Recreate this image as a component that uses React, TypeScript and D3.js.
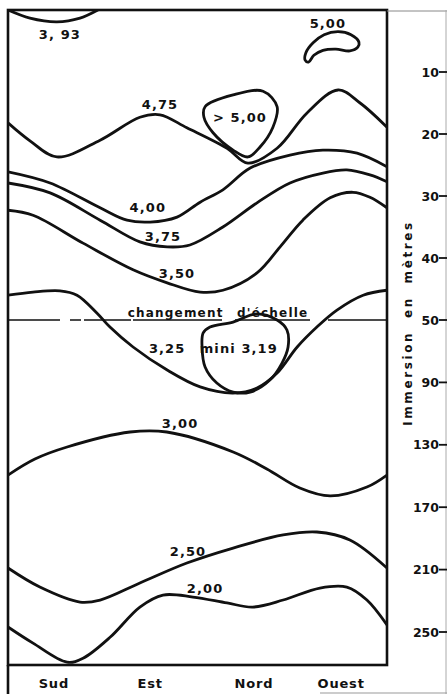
import React, { useRef, useEffect } from 'react';
import * as d3 from 'd3';

const WIDTH = 447;
const HEIGHT = 694;

// Depth axis (metres), scale changes below 50 m
const depthTicks = [10, 20, 30, 40, 50, 90, 130, 170, 210, 250];

// Orientation along the profile (0-100 = Sud ... Ouest, one turn)
const directions = ['Sud', 'Est', 'Nord', 'Ouest'];
const directionPos = [12.1, 37.5, 64.9, 87.9];

// Isolines: [position, depth in m]
const iso393 = [[0, 0], [5.8, 1.3], [12.9, 1.9], [19.0, 1.3], [23.7, 0]];
const iso500top = [[78.4, 8.1], [78.6, 6.9], [80.5, 5.3], [83.4, 4.0], [87.1, 3.5], [90.5, 4.0],
  [92.6, 5.2], [92.3, 6.0], [90.2, 6.6], [86.5, 6.3], [83.1, 6.5], [80.7, 7.3], [79.3, 8.4]];
const iso475 = [[0, 18.2], [5.8, 21.1], [12.9, 23.7], [24.3, 21.0], [34.8, 17.3], [40.1, 16.9],
  [47.2, 19.0], [57.8, 22.3], [63.3, 24.7], [71.0, 22.3], [78.9, 16.6], [87.1, 12.9],
  [92.9, 15.0], [100, 18.9]];
const iso500mid = [[52.0, 15.6], [59.4, 13.7], [67.3, 13.1], [71.0, 15.6], [69.9, 18.9],
  [66.5, 22.1], [63.3, 23.7], [59.4, 22.6], [54.1, 19.8], [51.7, 17.3]];
const iso400 = [[0, 26.1], [11.1, 27.9], [24.3, 31.9], [31.4, 33.9], [37.5, 34.2], [44.6, 33.4],
  [50.7, 31.0], [56.7, 29.0], [63.9, 25.5], [74.4, 23.4], [83.1, 22.6], [92.1, 23.1], [100, 25.3]];
const iso375 = [[0, 27.9], [11.1, 29.5], [24.3, 33.9], [34.8, 37.4], [42.0, 38.2], [48.0, 37.9],
  [56.7, 35.0], [65.7, 31.1], [74.4, 27.9], [83.1, 26.3], [89.4, 25.8], [95.5, 26.6], [100, 27.7]];
const iso350 = [[0, 32.3], [6.6, 33.1], [19.8, 37.6], [33.0, 41.9], [42.0, 44.0], [50.7, 45.5],
  [56.7, 45.2], [65.7, 42.4], [71.8, 38.2], [77.8, 33.9], [85.0, 30.3], [91.0, 29.4],
  [95.5, 30.2], [100, 31.9]];
const iso325 = [[0, 46.0], [6.6, 45.5], [13.7, 45.3], [18.2, 46.0], [23.5, 48.9], [26.9, 54.5],
  [33.0, 67.3], [42.0, 82.1], [50.7, 92.9], [59.4, 96.8], [65.7, 93.6], [71.0, 84.0],
  [76.3, 67.3], [81.5, 54.5], [86.8, 48.4], [93.7, 46.0], [100, 45.2]];
const iso319 = [[53.3, 54.5], [59.4, 51.3], [65.7, 49.0], [71.0, 50.0], [73.6, 56.4], [73.9, 67.3],
  [72.3, 77.6], [69.1, 88.5], [63.9, 96.2], [59.4, 96.2], [55.1, 90.4], [52.0, 80.1],
  [51.2, 67.3], [51.5, 58.3]];
const iso300 = [[0, 149.4], [7.1, 139.1], [15.6, 131.4], [32.2, 121.8], [41.9, 121.8],
  [59.4, 134.6], [68.3, 145.5], [77.0, 157.7], [85.0, 162.8], [94.7, 157.1], [100, 149.4]];
const iso250 = [[0, 209.0], [8.4, 221.2], [19.0, 230.8], [24.3, 229.5], [34.8, 218.6],
  [47.2, 205.8], [59.4, 196.2], [72.6, 187.8], [81.5, 185.9], [90.2, 191.0], [100, 209.0]];
const iso200 = [[0, 246.8], [6.6, 257.1], [15.6, 269.2], [19.8, 266.7], [27.0, 253.2],
  [34.8, 234.0], [40.9, 226.3], [48.8, 227.6], [57.8, 231.4], [64.6, 234.0], [72.6, 229.5],
  [82.3, 221.8], [89.4, 221.2], [94.7, 229.5], [100, 245.5]];

const openLines = [iso393, iso475, iso400, iso375, iso350, iso325, iso300, iso250, iso200];
const closedLines = [iso500top, iso500mid, iso319];

// Labels: [text, position, depth]
const isoLabels = [
  ['3, 93', 13.7, 3.9],
  ['5,00', 84.4, 2.1],
  ['4,75', 40.1, 15.2],
  ['> 5,00', 61.2, 17.3],
  ['4,00', 36.9, 31.8],
  ['3,75', 40.9, 36.5],
  ['3,50', 44.6, 42.4],
  ['3,25', 42.0, 67.9],
  ['mini 3,19', 60.9, 67.9],
  ['3,00', 45.4, 116.0],
  ['2,50', 47.5, 198.1],
  ['2,00', 52.0, 221.8],
];

const FONT = '"DejaVu Sans", sans-serif';

function IsolineChart() {
  const svgRef = useRef<SVGSVGElement>(null);

  useEffect(() => {
    const svg = d3.select(svgRef.current);
    svg.selectAll('*').remove();

    const left = 8, right = 387, top = 10, bottom = 665;

    const x = d3.scaleLinear().domain([0, 100]).range([left, right]);
    // piecewise depth scale (changement d'échelle at 50 m)
    const y = d3.scaleLinear().domain([0, 50, 250, 271]).range([top, 320, 632, bottom]);

    svg.append('rect').attr('width', WIDTH).attr('height', HEIGHT).attr('fill', '#fff');

    svg.append('defs').append('clipPath').attr('id', 'plot-clip')
      .append('rect')
      .attr('x', left).attr('y', top)
      .attr('width', right - left).attr('height', bottom - top);

    const g = svg.append('g').attr('clip-path', 'url(#plot-clip)');

    const line = d3.line<number[]>()
      .x(d => x(d[0]))
      .y(d => y(d[1]))
      .curve(d3.curveCatmullRom.alpha(0.5));

    const loop = d3.line<number[]>()
      .x(d => x(d[0]))
      .y(d => y(d[1]))
      .curve(d3.curveCatmullRomClosed.alpha(0.5));

    g.selectAll('.iso')
      .data(openLines)
      .enter()
      .append('path')
      .attr('class', 'iso')
      .attr('d', d => line(d))
      .attr('fill', 'none')
      .attr('stroke', '#111')
      .attr('stroke-width', 2.8)
      .attr('stroke-linejoin', 'round')
      .attr('stroke-linecap', 'round');

    g.selectAll('.loop')
      .data(closedLines)
      .enter()
      .append('path')
      .attr('class', 'loop')
      .attr('d', d => loop(d))
      .attr('fill', 'none')
      .attr('stroke', '#111')
      .attr('stroke-width', 2.8)
      .attr('stroke-linejoin', 'round');

    // changement d'échelle
    g.append('line')
      .attr('x1', left).attr('x2', right)
      .attr('y1', y(50)).attr('y2', y(50))
      .attr('stroke', '#111')
      .attr('stroke-width', 1.6)
      .attr('stroke-dasharray', '52 10 11 3 47 2 89 13 75 18 59');

    g.append('text')
      .attr('x', 218)
      .attr('y', y(50) - 3)
      .attr('text-anchor', 'middle')
      .attr('font-family', FONT)
      .attr('font-weight', 'bold')
      .attr('font-size', 12)
      .attr('letter-spacing', 1.2)
      .attr('word-spacing', 8)
      .attr('fill', '#111')
      .text("changement d'échelle");

    // isoline values
    g.selectAll('.iso-label')
      .data(isoLabels)
      .enter()
      .append('text')
      .attr('class', 'iso-label')
      .attr('x', d => x(d[1] as number))
      .attr('y', d => y(d[2] as number))
      .attr('dy', '0.36em')
      .attr('text-anchor', 'middle')
      .attr('font-family', FONT)
      .attr('font-weight', 'bold')
      .attr('font-size', 13)
      .attr('letter-spacing', 1.1)
      .attr('fill', '#111')
      .text(d => d[0] as string);

    // frame
    svg.append('rect')
      .attr('x', left).attr('y', top)
      .attr('width', right - left).attr('height', bottom - top)
      .attr('fill', 'none')
      .attr('stroke', '#111')
      .attr('stroke-width', 2.6);

    svg.append('line')
      .attr('x1', left).attr('x2', left)
      .attr('y1', bottom).attr('y2', HEIGHT)
      .attr('stroke', '#111').attr('stroke-width', 2.6);

    svg.append('line')
      .attr('x1', right).attr('x2', WIDTH)
      .attr('y1', top + 1).attr('y2', top + 1)
      .attr('stroke', '#888').attr('stroke-width', 1);

    svg.append('line')
      .attr('x1', WIDTH - 1).attr('x2', WIDTH - 1)
      .attr('y1', top).attr('y2', HEIGHT)
      .attr('stroke', '#aaa').attr('stroke-width', 1);

    svg.append('line')
      .attr('x1', 320).attr('x2', WIDTH)
      .attr('y1', HEIGHT - 1).attr('y2', HEIGHT - 1)
      .attr('stroke', '#999').attr('stroke-width', 1);

    // depth axis on the right
    const ticks = svg.append('g')
      .selectAll('.tick')
      .data(depthTicks)
      .enter()
      .append('g')
      .attr('class', 'tick')
      .attr('transform', d => `translate(0,${y(d)})`);

    ticks.append('line')
      .attr('x1', 439).attr('x2', WIDTH)
      .attr('stroke', '#111').attr('stroke-width', 1.8);

    ticks.append('text')
      .attr('x', 439)
      .attr('dy', '0.36em')
      .attr('text-anchor', 'end')
      .attr('font-family', FONT)
      .attr('font-weight', 'bold')
      .attr('font-size', 12.5)
      .attr('fill', '#111')
      .text(d => d);

    svg.append('text')
      .attr('transform', `translate(408,323) rotate(-90)`)
      .attr('dy', '0.36em')
      .attr('text-anchor', 'middle')
      .attr('font-family', FONT)
      .attr('font-weight', 'bold')
      .attr('font-size', 12)
      .attr('letter-spacing', 2.6)
      .attr('word-spacing', 6)
      .attr('fill', '#111')
      .text('Immersion en mètres');

    // orientation labels
    svg.append('g')
      .selectAll('text')
      .data(directions)
      .enter()
      .append('text')
      .attr('x', (d, i) => x(directionPos[i]))
      .attr('y', 688)
      .attr('text-anchor', 'middle')
      .attr('font-family', FONT)
      .attr('font-weight', 'bold')
      .attr('font-size', 13)
      .attr('letter-spacing', 0.8)
      .attr('fill', '#111')
      .text(d => d);
  }, []);

  return <svg ref={svgRef} width={WIDTH} height={HEIGHT} style={{ display: 'block' }}></svg>;
}

export default function App() {
  return (
    <div style={{ position: 'absolute', left: 0, top: 0 }}>
      <IsolineChart />
    </div>
  );
}
